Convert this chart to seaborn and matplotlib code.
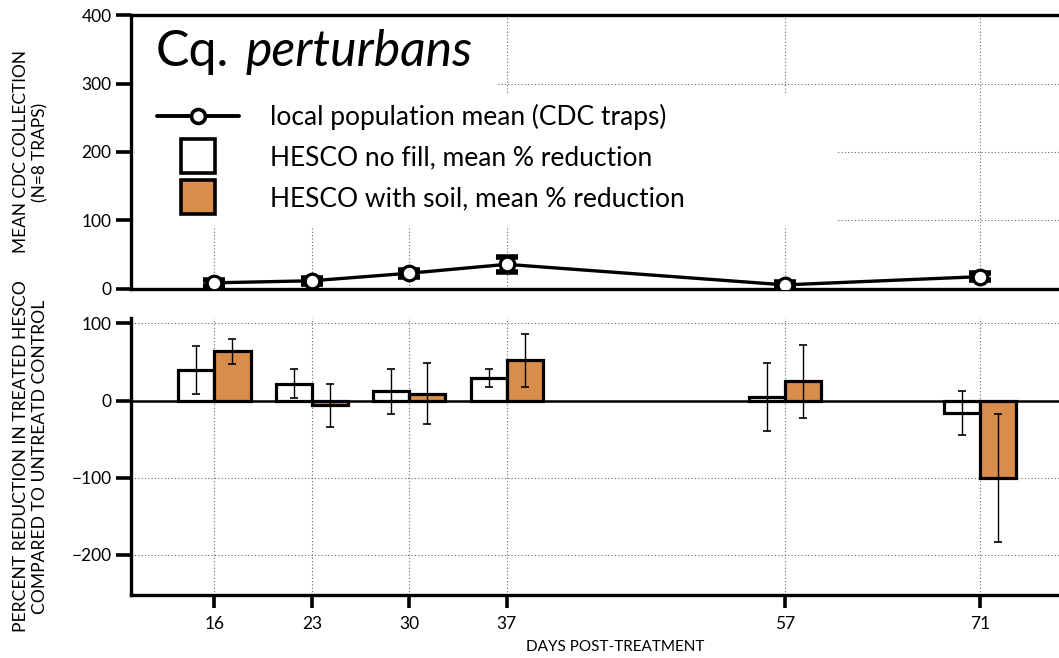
import numpy as np
import pandas as pd
import matplotlib.pyplot as plt
from matplotlib.patches import Rectangle
import seaborn as sns

# days post-treatment
days = [16, 23, 30, 37, 57, 71]

# local population mean (CDC traps, n=8)
cdc_mean = [9, 12, 23, 36, 6, 18]
cdc_err = [4, 4, 5, 11, 4, 5]

# mean % reduction vs untreated control
nofill_mean = [40, 22, 12, 29, 5, -16]
nofill_err = [31, 19, 29, 12, 44, 29]
soil_mean = [64, -6, 9, 52, 25, -100]
soil_err = [16, 28, 40, 34, 47, 83]

groups = ["HESCO no fill, mean % reduction", "HESCO with soil, mean % reduction"]
colors = ["white", "#D98D4A"]

FONT = ["Lato", "DejaVu Sans"]

sns.set_style("white")
plt.rcParams["font.family"] = FONT
plt.rcParams.update({
    "text.color": "black", "axes.labelcolor": "black",
    "xtick.color": "black", "ytick.color": "black", "axes.edgecolor": "black",
})

fig = plt.figure(figsize=(10.59, 6.58), dpi=100)
ax_top = fig.add_axes([0.1237, 0.5608, 0.8763, 0.4164])
ax_bot = fig.add_axes([0.1237, 0.0957, 0.8763, 0.4210])

xlim = (10, 76.7)
grid_kw = dict(color="#666666", linestyle=(0, (1, 2)), linewidth=0.8)

# ---- top panel: local population
sns.lineplot(x=days, y=cdc_mean, ax=ax_top, color="black", linewidth=2.4,
             marker="o", markersize=10.5, markerfacecolor="white",
             markeredgecolor="black", markeredgewidth=2.3, zorder=5)
ax_top.errorbar(days, cdc_mean, yerr=cdc_err, fmt="none", ecolor="black",
                elinewidth=2.2, capsize=8, capthick=4, zorder=4)
ax_top.set_xlim(*xlim)
ax_top.set_ylim(0, 400)
ax_top.set_yticks([0, 100, 200, 300, 400])
ax_top.set_xticks(days)
ax_top.tick_params(axis="x", length=0, labelbottom=False)
ax_top.set_axisbelow(True)
ax_top.grid(True, **grid_kw)
ax_top.set_ylabel("MEAN CDC COLLECTION\n(N=8 TRAPS)", fontsize=12.4, linespacing=1.25)
ax_top.yaxis.set_label_coords(-0.089, 0.5)

# white boxes behind the title and legend (they hide the grid)
ax_top.add_patch(Rectangle((0.004, 0.70), 0.39, 0.29, transform=ax_top.transAxes,
                           facecolor="white", edgecolor="none", zorder=2))
ax_top.add_patch(Rectangle((0.004, 0.23), 0.757, 0.48, transform=ax_top.transAxes,
                           facecolor="white", edgecolor="none", zorder=2))

# ---- bottom panel: percent reduction
df = pd.DataFrame({
    "day": days * 2,
    "value": nofill_mean + soil_mean,
    "group": [groups[0]] * len(days) + [groups[1]] * len(days),
})
bar_w = 0.74
sns.barplot(data=df, x="day", y="value", hue="group", hue_order=groups,
            palette=colors, saturation=1, native_scale=True, width=bar_w, dodge=True,
            errorbar=None, edgecolor="black", linewidth=2.3, legend=False,
            ax=ax_bot, zorder=3)
half = bar_w * 7 / 4
for offset, mean, err in [(-half, nofill_mean, nofill_err), (half, soil_mean, soil_err)]:
    ax_bot.errorbar(np.array(days) + offset, mean, yerr=err, fmt="none",
                    ecolor="black", elinewidth=1.0, capsize=3, capthick=1.2, zorder=4)
ax_bot.axhline(0, color="black", linewidth=1.8, zorder=2)
ax_bot.set_xlim(*xlim)
ax_bot.set_ylim(-252, 107)
ax_bot.set_yticks([100, 0, -100, -200])
ax_bot.set_yticklabels(["100", "0", "\u2212100", "\u2212200"])
ax_bot.set_xticks(days)
ax_bot.set_xticklabels([str(d) for d in days])
ax_bot.set_axisbelow(True)
ax_bot.grid(True, **grid_kw)
ax_bot.set_xlabel("DAYS POST-TREATMENT", fontsize=11)
ax_bot.xaxis.set_label_coords(0.5216, -0.162)
ax_bot.set_ylabel("PERCENT REDUCTION IN TREATED HESCO\nCOMPARED TO UNTREATD CONTROL",
                  fontsize=12.6, linespacing=1.25)
ax_bot.yaxis.set_label_coords(-0.089, 0.5)

for ax in (ax_top, ax_bot):
    ax.spines["right"].set_visible(False)
    ax.spines["left"].set_linewidth(2.4)
    ax.spines["bottom"].set_linewidth(2.4)
    ax.tick_params(axis="y", direction="out", length=11, width=2.6,
                   labelsize=12.5, pad=3, left=True)
ax_top.spines["top"].set_linewidth(2.4)
ax_bot.spines["top"].set_visible(False)
ax_bot.tick_params(axis="x", direction="out", length=9, width=2.6,
                   labelsize=12.5, pad=6, bottom=True)

# ---- legend with the species title
handles = [
    plt.Line2D([], [], color="black", linewidth=2.8, marker="o", markersize=10,
               markerfacecolor="white", markeredgecolor="black", markeredgewidth=2.6),
    plt.Line2D([], [], linestyle="none", marker="s", markersize=25,
               markerfacecolor=colors[0], markeredgecolor="black", markeredgewidth=2.6),
    plt.Line2D([], [], linestyle="none", marker="s", markersize=25,
               markerfacecolor=colors[1], markeredgecolor="black", markeredgewidth=2.6),
]
labels = ["local population mean (CDC traps)"] + groups
leg = ax_top.legend(handles, labels, loc="upper left", bbox_to_anchor=(0.02, 0.705),
                    fontsize=19, frameon=False, handlelength=3.1,
                    labelspacing=0.6, borderpad=0.3, handletextpad=1.17,
                    borderaxespad=0)
leg.set_zorder(10)

ax_top.text(0.026, 0.865, "Cq.", transform=ax_top.transAxes, fontsize=36,
            va="center", ha="left", zorder=11)
ax_top.text(0.123, 0.865, "perturbans", transform=ax_top.transAxes, fontsize=36,
            style="italic", va="center", ha="left", zorder=11)

fig.savefig("out.png", dpi=100)
